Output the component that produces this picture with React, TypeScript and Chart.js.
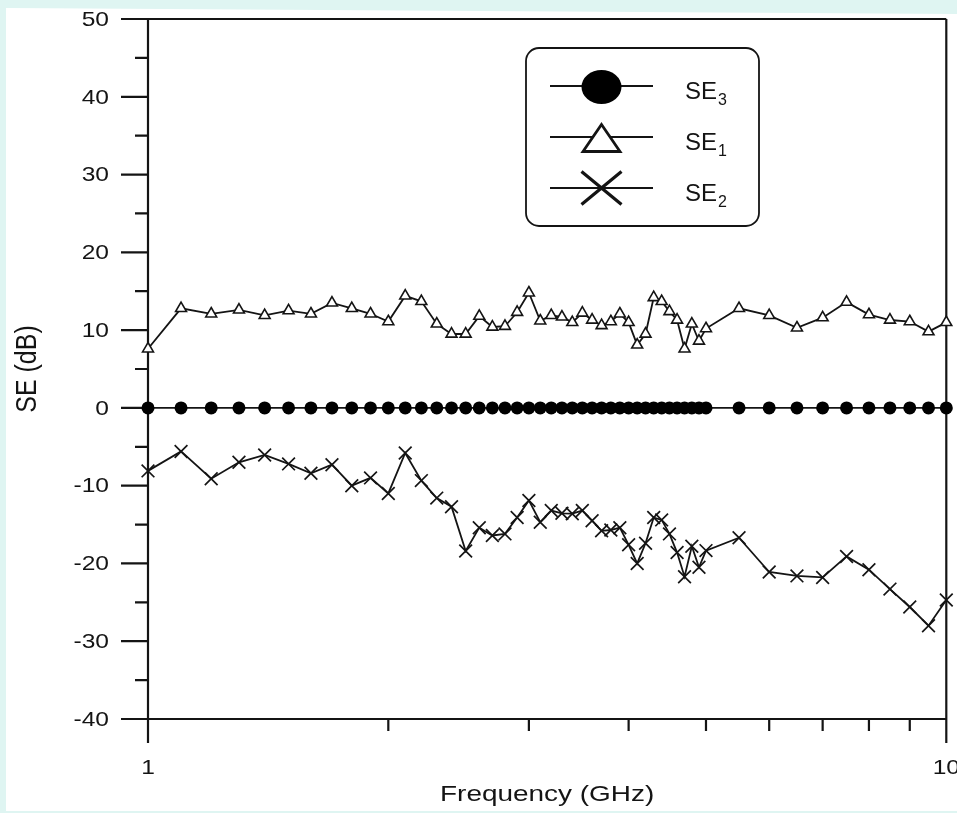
import React, { useEffect, useRef } from "react";
import { Chart, registerables } from "chart.js";

Chart.register(...registerables);

// ---- data ----
const FREQ_GHZ = [
  1.0, 1.1, 1.2, 1.3, 1.4, 1.5, 1.6, 1.7, 1.8, 1.9,
  2.0, 2.1, 2.2, 2.3, 2.4, 2.5, 2.6, 2.7, 2.8, 2.9,
  3.0, 3.1, 3.2, 3.3, 3.4, 3.5, 3.6, 3.7, 3.8, 3.9,
  4.0, 4.1, 4.2, 4.3, 4.4, 4.5, 4.6, 4.7, 4.8, 4.9,
  5.0, 5.5, 6.0, 6.5, 7.0, 7.5, 8.0, 8.5, 9.0, 9.5, 10.0,
];

const SE3 = [
  0, 0, 0, 0, 0, 0, 0, 0, 0, 0,
  0, 0, 0, 0, 0, 0, 0, 0, 0, 0,
  0, 0, 0, 0, 0, 0, 0, 0, 0, 0,
  0, 0, 0, 0, 0, 0, 0, 0, 0, 0,
  0, 0, 0, 0, 0, 0, 0, 0, 0, 0, 0,
];

const SE1 = [
  7.6, 12.8, 12.1, 12.6, 11.9, 12.5, 12.1, 13.5, 12.8, 12.1,
  11.1, 14.4, 13.7, 10.8, 9.5, 9.5, 11.8, 10.4, 10.5, 12.3,
  14.8, 11.2, 11.9, 11.7, 11.0, 12.2, 11.3, 10.6, 11.1, 12.1,
  11.0, 8.1, 9.5, 14.2, 13.7, 12.4, 11.3, 7.6, 10.8, 8.6,
  10.2, 12.8, 11.9, 10.3, 11.6, 13.6, 12.0, 11.3, 11.1, 9.8, 11.0,
];

const SE2 = [
  -8.1, -5.6, -9.1, -7.0, -6.05, -7.2, -8.4, -7.3, -10.0, -9.0,
  -11.0, -5.8, -9.35, -11.6, -12.7, -18.4, -15.4, -16.4, -16.2, -14.1,
  -11.9, -14.7, -13.2, -13.55, -13.6, -13.2, -14.5, -15.8, -15.7, -15.4,
  -17.6, -20.0, -17.4, -14.1, -14.4, -16.2, -18.6, -21.7, -17.8, -20.5,
  -18.35, -16.7, -21.1, -21.6, -21.8, -19.1, -20.8, -23.3, -25.6, -28.0, -24.7,
];

const Y_MAJOR_TICKS = [-40, -30, -20, -10, 0, 10, 20, 30, 40, 50];
const Y_MINOR_TICKS = [-35, -25, -15, -5, 5, 15, 25, 35, 45];
const X_MINOR_TICKS = [2, 3, 4, 5, 6, 7, 8, 9];
const X_LABEL_TICKS = [1, 10];
const X_LABELS = ["1", "10"];
const LEGEND_NAMES = ["SE", "SE", "SE"];
const LEGEND_SUBS = ["3", "1", "2"];
const X_TITLE = "Frequency (GHz)";
const Y_TITLE = "SE (dB)";

const W = 957;
const H = 813;
const INK = "#141414";
const FONT = "'Liberation Sans', Arial, Helvetica, sans-serif";

function stretchText(
  ctx: CanvasRenderingContext2D,
  text: string,
  x: number,
  y: number,
  size: number,
  sx: number,
  align: CanvasTextAlign,
  baseline: CanvasTextBaseline
) {
  ctx.save();
  ctx.font = `${size}px ${FONT}`;
  ctx.textAlign = align;
  ctx.textBaseline = baseline;
  ctx.fillStyle = INK;
  ctx.translate(x, y);
  ctx.scale(sx, 1);
  ctx.fillText(text, 0, 0);
  ctx.restore();
}

const figurePlugin = {
  id: "figurePlugin",
  beforeDraw(chart: any) {
    const ctx: CanvasRenderingContext2D = chart.ctx;
    ctx.save();
    ctx.fillStyle = "#dff5f2";
    ctx.fillRect(0, 0, W, H);
    ctx.fillStyle = "#ffffff";
    ctx.beginPath();
    ctx.moveTo(6, 8);
    ctx.lineTo(W, 14);
    ctx.lineTo(W, 811);
    ctx.lineTo(6, 811);
    ctx.closePath();
    ctx.fill();
    ctx.restore();
  },
  beforeDatasetsDraw(chart: any) {
    const ctx: CanvasRenderingContext2D = chart.ctx;
    const xs = chart.scales.x;
    const ys = chart.scales.y;
    const left = xs.getPixelForValue(1);
    const right = xs.getPixelForValue(10);
    const top = ys.getPixelForValue(50);
    const bottom = ys.getPixelForValue(-40);
    ctx.save();
    ctx.strokeStyle = INK;
    ctx.lineWidth = 2.2;
    ctx.lineCap = "butt";
    ctx.beginPath();
    // frame
    ctx.moveTo(left, top);
    ctx.lineTo(right, top);
    ctx.moveTo(left, top);
    ctx.lineTo(left, bottom + 24);
    ctx.moveTo(right, top);
    ctx.lineTo(right, bottom + 24);
    ctx.moveTo(left, bottom);
    ctx.lineTo(right, bottom);
    // y ticks
    for (const v of Y_MAJOR_TICKS) {
      const y = ys.getPixelForValue(v);
      ctx.moveTo(left - 27, y);
      ctx.lineTo(left, y);
    }
    for (const v of Y_MINOR_TICKS) {
      const y = ys.getPixelForValue(v);
      ctx.moveTo(left - 13, y);
      ctx.lineTo(left, y);
    }
    // x minor ticks
    for (const v of X_MINOR_TICKS) {
      const x = xs.getPixelForValue(v);
      ctx.moveTo(x, bottom);
      ctx.lineTo(x, bottom + 12);
    }
    ctx.stroke();

    // y labels
    for (const v of Y_MAJOR_TICKS) {
      const y = ys.getPixelForValue(v);
      stretchText(ctx, String(v), left - 39, y + 1, 21, 1.17, "right", "middle");
    }
    // x labels
    X_LABEL_TICKS.forEach((v, i) => {
      const x = xs.getPixelForValue(v);
      stretchText(ctx, X_LABELS[i], x, bottom + 55, 21, 1.17, "center", "alphabetic");
    });
    // x title
    stretchText(ctx, X_TITLE, (left + right) / 2, 801, 22, 1.27, "center", "alphabetic");
    // y title
    ctx.save();
    ctx.font = `25px ${FONT}`;
    ctx.fillStyle = INK;
    ctx.textAlign = "center";
    ctx.textBaseline = "alphabetic";
    ctx.translate(36, (top + bottom) / 2);
    ctx.rotate(-Math.PI / 2);
    ctx.scale(1, 1.2);
    ctx.fillText(Y_TITLE, 0, 0);
    ctx.restore();
    ctx.restore();
  },
  afterDatasetsDraw(chart: any) {
    const ctx: CanvasRenderingContext2D = chart.ctx;
    ctx.save();
    // legend box
    const bx = 526, by = 48, bw = 233, bh = 178, r = 13;
    ctx.fillStyle = "#ffffff";
    ctx.strokeStyle = INK;
    ctx.lineWidth = 1.8;
    ctx.beginPath();
    ctx.moveTo(bx + r, by);
    ctx.lineTo(bx + bw - r, by);
    ctx.arcTo(bx + bw, by, bx + bw, by + r, r);
    ctx.lineTo(bx + bw, by + bh - r);
    ctx.arcTo(bx + bw, by + bh, bx + bw - r, by + bh, r);
    ctx.lineTo(bx + r, by + bh);
    ctx.arcTo(bx, by + bh, bx, by + bh - r, r);
    ctx.lineTo(bx, by + r);
    ctx.arcTo(bx, by, bx + r, by, r);
    ctx.closePath();
    ctx.fill();
    ctx.stroke();

    const rowsY = [86, 137, 188];
    const mx = 601.5;
    rowsY.forEach((ly, i) => {
      ctx.strokeStyle = INK;
      ctx.lineWidth = 1.8;
      ctx.beginPath();
      ctx.moveTo(550, ly);
      ctx.lineTo(653, ly);
      ctx.stroke();
      if (i === 0) {
        ctx.fillStyle = "#000";
        ctx.beginPath();
        ctx.ellipse(mx, ly + 1, 20, 17, 0, 0, Math.PI * 2);
        ctx.fill();
      } else if (i === 1) {
        ctx.fillStyle = "#fff";
        ctx.lineWidth = 2.8;
        ctx.lineJoin = "miter";
        ctx.beginPath();
        ctx.moveTo(mx, ly - 12.5);
        ctx.lineTo(mx + 18.5, ly + 14.5);
        ctx.lineTo(mx - 18.5, ly + 14.5);
        ctx.closePath();
        ctx.fill();
        ctx.stroke();
      } else {
        ctx.lineWidth = 3.2;
        ctx.beginPath();
        ctx.moveTo(mx - 20, ly - 16.5);
        ctx.lineTo(mx + 20, ly + 16.5);
        ctx.moveTo(mx - 20, ly + 16.5);
        ctx.lineTo(mx + 20, ly - 16.5);
        ctx.stroke();
      }
      // text with subscript
      ctx.save();
      ctx.font = `24px ${FONT}`;
      ctx.fillStyle = INK;
      ctx.textAlign = "left";
      ctx.textBaseline = "alphabetic";
      ctx.fillText(LEGEND_NAMES[i], 685, ly + 12.5);
      const w = ctx.measureText(LEGEND_NAMES[i]).width;
      ctx.font = `16px ${FONT}`;
      ctx.fillText(LEGEND_SUBS[i], 685 + w + 1, ly + 18.5);
      ctx.restore();
    });
    ctx.restore();
  },
};

export default function App() {
  const canvasRef = useRef<HTMLCanvasElement | null>(null);

  useEffect(() => {
    document.body.style.margin = "0";
    document.body.style.overflow = "hidden";
    const canvas = canvasRef.current;
    if (!canvas) return;
    const toPts = (vals: number[]) => FREQ_GHZ.map((f, i) => ({ x: f, y: vals[i] }));
    const chart = new Chart(canvas, {
      type: "line",
      data: {
        datasets: [
          {
            label: "SE1",
            data: toPts(SE1),
            borderColor: INK,
            borderWidth: 1.8,
            pointStyle: "triangle",
            pointRadius: 6.3,
            pointBackgroundColor: "#ffffff",
            pointBorderColor: INK,
            pointBorderWidth: 1.6,
            clip: false,
          },
          {
            label: "SE2",
            data: toPts(SE2),
            borderColor: INK,
            borderWidth: 1.8,
            pointStyle: "crossRot",
            pointRadius: 9,
            pointBorderColor: INK,
            pointBorderWidth: 1.7,
            clip: false,
          },
          {
            label: "SE3",
            data: toPts(SE3),
            borderColor: INK,
            borderWidth: 1.8,
            pointStyle: "circle",
            pointRadius: 6.5,
            pointBackgroundColor: "#000000",
            pointBorderColor: "#000000",
            pointBorderWidth: 0,
            clip: false,
          },
        ],
      },
      options: {
        responsive: false,
        animation: false,
        devicePixelRatio: 1,
        layout: { padding: { left: 148, right: 10, top: 19, bottom: 94 } },
        plugins: {
          legend: { display: false },
          tooltip: { enabled: false },
        },
        elements: { line: { tension: 0 } },
        scales: {
          x: { type: "logarithmic", min: 1, max: 10, display: false },
          y: { type: "linear", min: -40, max: 50, display: false },
        },
      },
      plugins: [figurePlugin],
    });
    return () => chart.destroy();
  }, []);

  return (
    <div style={{ width: W, height: H, position: "relative" }}>
      <canvas ref={canvasRef} width={W} height={H} style={{ display: "block", width: W, height: H }} />
    </div>
  );
}
